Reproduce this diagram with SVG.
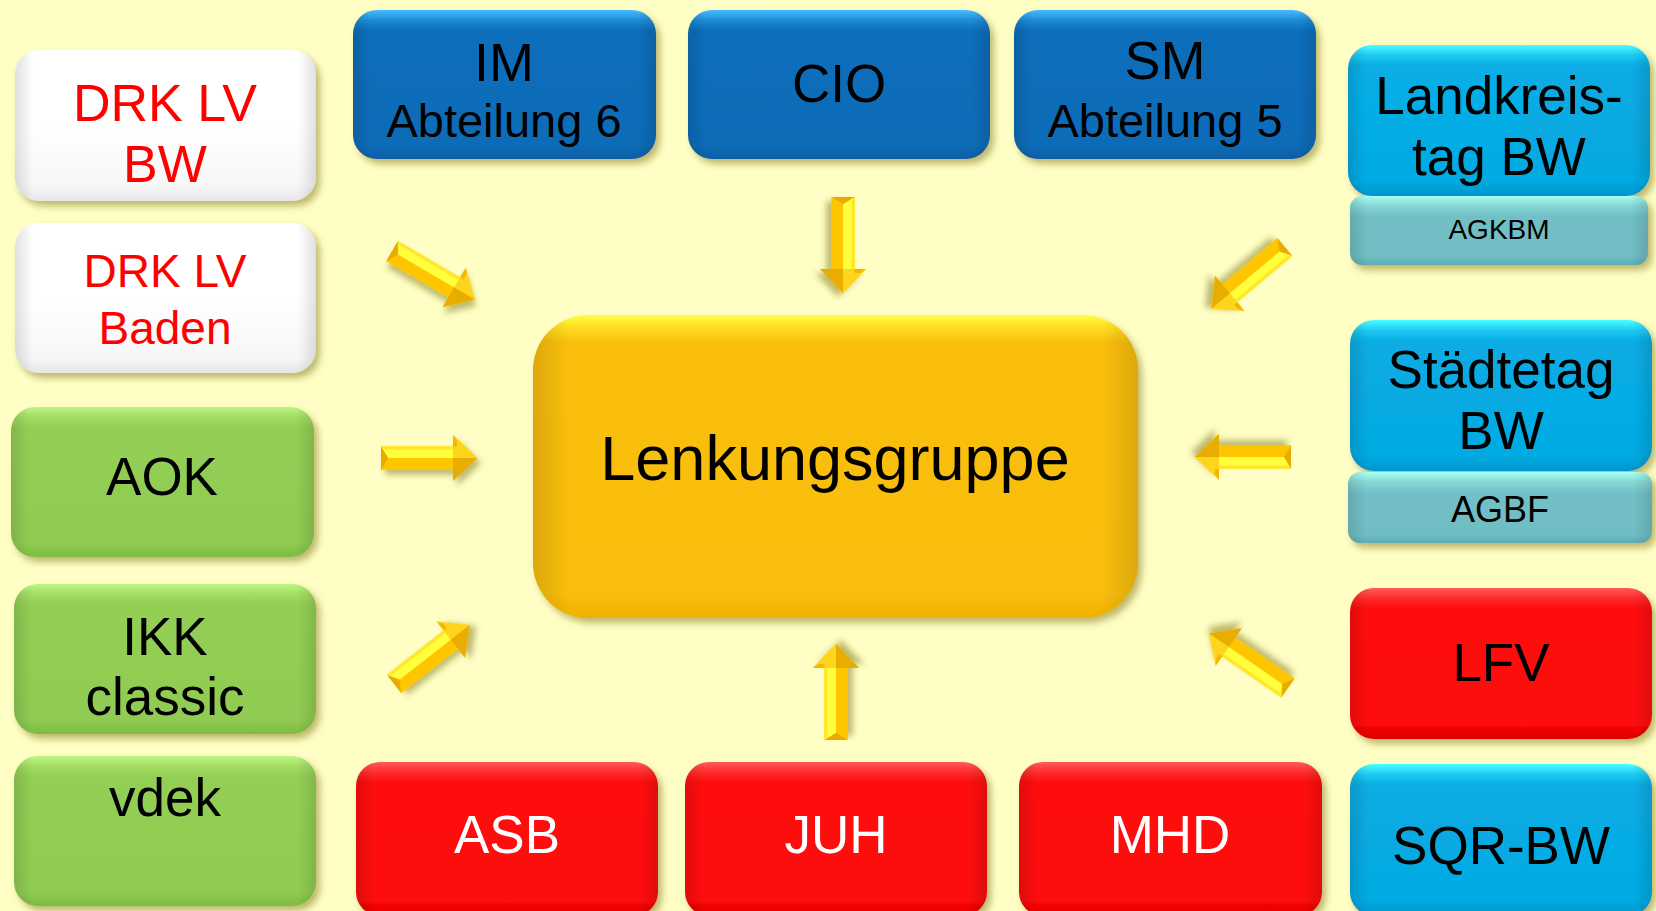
<svg xmlns="http://www.w3.org/2000/svg" xmlns:xlink="http://www.w3.org/1999/xlink" width="1656" height="911" viewBox="0 0 1656 911">
<style>
  text { font-family: "Liberation Sans", Arial, sans-serif; text-anchor: middle; }
  .t { font-size: 53px; fill: #000; }
  .sub { font-size: 47px; fill: #000; }
  .red { fill: #FF0000; }
  .wht { fill: #FFFFFF; }
  .box { filter: url(#shadow); }
  .edge { fill: url(#edgeH); }
</style>
<defs>
  <filter id="shadow" x="-10%" y="-10%" width="125%" height="130%">
    <feDropShadow dx="4" dy="5" stdDeviation="3.5" flood-color="#6e6200" flood-opacity="0.45"/>
  </filter>
  <filter id="ashadow" x="-30%" y="-60%" width="160%" height="220%">
    <feDropShadow dx="4" dy="5" stdDeviation="3" flood-color="#6e6200" flood-opacity="0.45"/>
  </filter>
  <linearGradient id="edgeH" x1="0" y1="0" x2="1" y2="0">
    <stop offset="0" stop-color="#000" stop-opacity="0.12"/>
    <stop offset="0.06" stop-color="#000" stop-opacity="0"/>
    <stop offset="0.94" stop-color="#000" stop-opacity="0"/>
    <stop offset="1" stop-color="#000" stop-opacity="0.12"/>
  </linearGradient>
  <linearGradient id="gWhite" x1="0" y1="0" x2="0" y2="1">
    <stop offset="0" stop-color="#FFFFFF"/>
    <stop offset="0.5" stop-color="#FFFFFF"/>
    <stop offset="0.9" stop-color="#F7F7F7"/>
    <stop offset="1" stop-color="#E6E6E6"/>
  </linearGradient>
  <linearGradient id="gGreen" x1="0" y1="0" x2="0" y2="1">
    <stop offset="0" stop-color="#BDF584"/>
    <stop offset="0.07" stop-color="#A2DC62"/>
    <stop offset="0.14" stop-color="#93CF54"/>
    <stop offset="0.9" stop-color="#90CC52"/>
    <stop offset="1" stop-color="#7EBB42"/>
  </linearGradient>
  <linearGradient id="gBlue" x1="0" y1="0" x2="0" y2="1">
    <stop offset="0" stop-color="#48BCFF"/>
    <stop offset="0.07" stop-color="#1E8AD6"/>
    <stop offset="0.14" stop-color="#0B6EBB"/>
    <stop offset="0.9" stop-color="#0A6CB8"/>
    <stop offset="1" stop-color="#085EA4"/>
  </linearGradient>
  <linearGradient id="gCyan" x1="0" y1="0" x2="0" y2="1">
    <stop offset="0" stop-color="#48FFFF"/>
    <stop offset="0.07" stop-color="#1EC8F2"/>
    <stop offset="0.14" stop-color="#07ACE4"/>
    <stop offset="0.9" stop-color="#06AAE2"/>
    <stop offset="1" stop-color="#0496CC"/>
  </linearGradient>
  <linearGradient id="gTeal" x1="0" y1="0" x2="0" y2="1">
    <stop offset="0" stop-color="#A8FFF2"/>
    <stop offset="0.14" stop-color="#86D8D6"/>
    <stop offset="0.3" stop-color="#72C0C6"/>
    <stop offset="0.88" stop-color="#70BEC4"/>
    <stop offset="1" stop-color="#5EAEB4"/>
  </linearGradient>
  <linearGradient id="gRed" x1="0" y1="0" x2="0" y2="1">
    <stop offset="0" stop-color="#FF5A5A"/>
    <stop offset="0.07" stop-color="#FF2A2A"/>
    <stop offset="0.14" stop-color="#FF0A0A"/>
    <stop offset="0.9" stop-color="#FD0808"/>
    <stop offset="1" stop-color="#DD0000"/>
  </linearGradient>
  <linearGradient id="gGold" x1="0" y1="0" x2="0" y2="1">
    <stop offset="0" stop-color="#FFFF44"/>
    <stop offset="0.04" stop-color="#FFDE22"/>
    <stop offset="0.09" stop-color="#FABF0B"/>
    <stop offset="0.92" stop-color="#F9BE0A"/>
    <stop offset="1" stop-color="#F0B000"/>
  </linearGradient>
  <g id="arrow">
    <polygon points="0,-11.5 72,-11.5 72,-23 96,0 72,23 72,11.5 0,11.5" fill="#FFC400"/>
    <polygon points="0,-11.5 72,-11.5 72,0 7,0" fill="#FFFF3A"/>
    <polygon points="0,-11.5 72,-11.5 72,-8.5 4,-8.5" fill="#FFE62A"/>
    <polygon points="7,0 72,0 72,11.5 0,11.5" fill="#FFC600"/>
    <polygon points="0,-11.5 7,0 0,11.5" fill="#E8A900"/>
    <polygon points="72,-23 96,0 72,0" fill="#FFD41C"/>
    <polygon points="72,0 96,0 72,23" fill="#E9AC00"/>
    <polygon points="72,-23 76,-17 76,-11.5 72,-11.5" fill="#F2B800"/>
  </g>
</defs>

<rect x="0" y="0" width="1656" height="911" fill="#FFFFC5"/>

<g id="connectors">
  <use xlink:href="#arrow" href="#arrow" filter="url(#ashadow)" transform="translate(392,251) rotate(30.3)"/>
  <use xlink:href="#arrow" href="#arrow" filter="url(#ashadow)" transform="translate(843,197) rotate(90)"/>
  <use xlink:href="#arrow" href="#arrow" filter="url(#ashadow)" transform="translate(1285,247) rotate(140)"/>
  <use xlink:href="#arrow" href="#arrow" filter="url(#ashadow)" transform="translate(381,458)"/>
  <use xlink:href="#arrow" href="#arrow" filter="url(#ashadow)" transform="translate(1291,457) rotate(180)"/>
  <use xlink:href="#arrow" href="#arrow" filter="url(#ashadow)" transform="translate(394,684) rotate(-38)"/>
  <use xlink:href="#arrow" href="#arrow" filter="url(#ashadow)" transform="translate(836,740) rotate(-90)"/>
  <use xlink:href="#arrow" href="#arrow" filter="url(#ashadow)" transform="translate(1288,688) rotate(-145.3)"/>
</g>

<g id="center">
  <rect class="box" x="533" y="315" width="605" height="303" rx="55" fill="url(#gGold)"/>
  <rect class="edge" x="533" y="315" width="605" height="303" rx="55"/>
  <text x="835" y="480" style="font-size:63px">Lenkungsgruppe</text>
</g>

<g id="drk-bw">
  <rect class="box" x="15" y="50" width="301" height="151" rx="24" fill="url(#gWhite)"/>
  <rect class="edge" x="15" y="50" width="301" height="151" rx="24"/>
  <text class="red" x="165" y="121" style="font-size:52px">DRK LV</text>
  <text class="red" x="165" y="182" style="font-size:52px">BW</text>
</g>
<g id="drk-baden">
  <rect class="box" x="15" y="223" width="301" height="150" rx="24" fill="url(#gWhite)"/>
  <rect class="edge" x="15" y="223" width="301" height="150" rx="24"/>
  <text class="red" x="165" y="287" style="font-size:46px">DRK LV</text>
  <text class="red" x="165" y="344" style="font-size:46px">Baden</text>
</g>
<g id="aok">
  <rect class="box" x="11" y="407" width="303" height="150" rx="24" fill="url(#gGreen)"/>
  <rect class="edge" x="11" y="407" width="303" height="150" rx="24"/>
  <text class="t" x="162" y="495">AOK</text>
</g>
<g id="ikk">
  <rect class="box" x="14" y="584" width="302" height="150" rx="24" fill="url(#gGreen)"/>
  <rect class="edge" x="14" y="584" width="302" height="150" rx="24"/>
  <text class="t" x="165" y="655">IKK</text>
  <text class="t" x="165" y="715">classic</text>
</g>
<g id="vdek">
  <rect class="box" x="14" y="756" width="302" height="150" rx="24" fill="url(#gGreen)"/>
  <rect class="edge" x="14" y="756" width="302" height="150" rx="24"/>
  <text class="t" x="165" y="816">vdek</text>
</g>

<g id="im">
  <rect class="box" x="353" y="10" width="303" height="149" rx="24" fill="url(#gBlue)"/>
  <rect class="edge" x="353" y="10" width="303" height="149" rx="24"/>
  <text x="504" y="81" style="font-size:54px">IM</text>
  <text class="sub" x="504" y="137">Abteilung 6</text>
</g>
<g id="cio">
  <rect class="box" x="688" y="10" width="302" height="149" rx="24" fill="url(#gBlue)"/>
  <rect class="edge" x="688" y="10" width="302" height="149" rx="24"/>
  <text class="t" x="839" y="102">CIO</text>
</g>
<g id="sm">
  <rect class="box" x="1014" y="10" width="302" height="149" rx="24" fill="url(#gBlue)"/>
  <rect class="edge" x="1014" y="10" width="302" height="149" rx="24"/>
  <text x="1165" y="79" style="font-size:54px">SM</text>
  <text class="sub" x="1165" y="137">Abteilung 5</text>
</g>

<g id="landkreistag">
  <rect class="box" x="1348" y="45" width="302" height="151" rx="24" fill="url(#gCyan)"/>
  <rect class="edge" x="1348" y="45" width="302" height="151" rx="24"/>
  <text class="t" x="1499" y="114">Landkreis-</text>
  <text class="t" x="1499" y="175">tag BW</text>
</g>
<g id="agkbm">
  <rect class="box" x="1350" y="196" width="298" height="69" rx="12" fill="url(#gTeal)"/>
  <rect class="edge" x="1350" y="196" width="298" height="69" rx="12"/>
  <text x="1499" y="239" style="font-size:28px">AGKBM</text>
</g>
<g id="staedtetag">
  <rect class="box" x="1350" y="320" width="302" height="151" rx="24" fill="url(#gCyan)"/>
  <rect class="edge" x="1350" y="320" width="302" height="151" rx="24"/>
  <text class="t" x="1501" y="388">Städtetag</text>
  <text class="t" x="1501" y="449">BW</text>
</g>
<g id="agbf">
  <rect class="box" x="1348" y="472" width="304" height="71" rx="12" fill="url(#gTeal)"/>
  <rect class="edge" x="1348" y="472" width="304" height="71" rx="12"/>
  <text x="1500" y="522" style="font-size:36px">AGBF</text>
</g>
<g id="lfv">
  <rect class="box" x="1350" y="588" width="302" height="151" rx="24" fill="url(#gRed)"/>
  <rect class="edge" x="1350" y="588" width="302" height="151" rx="24"/>
  <text class="t" x="1501" y="681">LFV</text>
</g>
<g id="sqr">
  <rect class="box" x="1350" y="764" width="302" height="152" rx="24" fill="url(#gCyan)"/>
  <rect class="edge" x="1350" y="764" width="302" height="152" rx="24"/>
  <text class="t" x="1501" y="864">SQR-BW</text>
</g>

<g id="asb">
  <rect class="box" x="356" y="762" width="302" height="154" rx="24" fill="url(#gRed)"/>
  <rect class="edge" x="356" y="762" width="302" height="154" rx="24"/>
  <text class="t wht" x="507" y="853">ASB</text>
</g>
<g id="juh">
  <rect class="box" x="685" y="762" width="302" height="154" rx="24" fill="url(#gRed)"/>
  <rect class="edge" x="685" y="762" width="302" height="154" rx="24"/>
  <text class="t wht" x="836" y="853">JUH</text>
</g>
<g id="mhd">
  <rect class="box" x="1019" y="762" width="303" height="154" rx="24" fill="url(#gRed)"/>
  <rect class="edge" x="1019" y="762" width="303" height="154" rx="24"/>
  <text class="t wht" x="1170" y="853">MHD</text>
</g>
</svg>
